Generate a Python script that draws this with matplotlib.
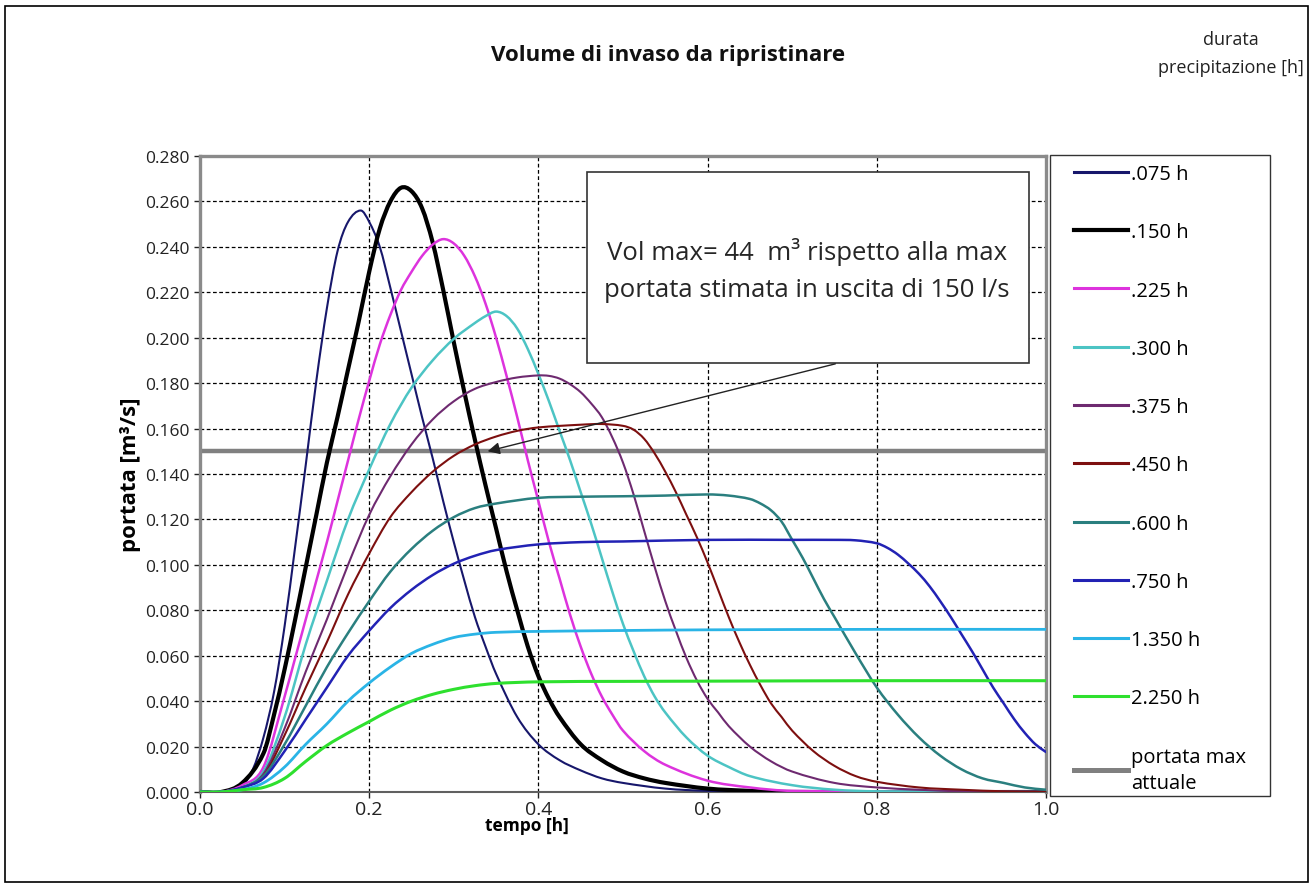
import matplotlib.pyplot as plt
from matplotlib.lines import Line2D
from matplotlib.patches import Rectangle, PathPatch
from matplotlib.path import Path

plt.rcParams['font.family'] = ['Open Sans', 'DejaVu Sans']

# durate di precipitazione e idrogrammi (tempo [h], portata [m3/s])
labels = ['.075 h', '.150 h', '.225 h', '.300 h', '.375 h', '.450 h',
          '.600 h', '.750 h', '1.350 h', '2.250 h']
colors = ['#17176b', '#000000', '#dd33dd', '#4cc4c4', '#6e2a70', '#7d0f0f',
          '#2a7f7f', '#2222b4', '#2ab4e6', '#2ee02e']
widths = [1.5, 3.0, 1.8, 1.8, 1.5, 1.5, 1.8, 1.8, 2.0, 2.2]

t_075 = [0, 0.025, 0.05, 0.0625, 0.075, 0.0875, 0.1, 0.1125, 0.125, 0.1375, 0.15, 0.1625,
         0.175, 0.19, 0.2, 0.2125, 0.225, 0.2375, 0.25, 0.2625, 0.275, 0.2875, 0.3, 0.3125,
         0.325, 0.3375, 0.35, 0.375, 0.4, 0.425, 0.45, 0.475, 0.5, 0.55, 0.6, 0.7, 1.0]
q_075 = [0, 0.000, 0.003, 0.010, 0.024, 0.044, 0.073, 0.108, 0.144, 0.181, 0.213, 0.238,
         0.251, 0.256, 0.251, 0.240, 0.222, 0.203, 0.184, 0.165, 0.147, 0.128, 0.110, 0.093,
         0.077, 0.064, 0.052, 0.033, 0.021, 0.014, 0.0095, 0.006, 0.004, 0.0015, 0.0005, 0.0, 0.0]

t_150 = [0, 0.025, 0.05, 0.075, 0.0875, 0.1, 0.1125, 0.125, 0.1375, 0.15, 0.1625, 0.175,
         0.1875, 0.2, 0.2125, 0.225, 0.2375, 0.25, 0.2625, 0.275, 0.2875, 0.3, 0.3125, 0.325,
         0.3375, 0.35, 0.3625, 0.375, 0.3875, 0.4, 0.4125, 0.425, 0.45, 0.475, 0.5, 0.525,
         0.55, 0.6, 0.65, 0.7, 1.0]
q_150 = [0, 0.000, 0.004, 0.017, 0.034, 0.054, 0.076, 0.099, 0.122, 0.145, 0.165, 0.186,
         0.207, 0.229, 0.248, 0.260, 0.266, 0.2645, 0.257, 0.242, 0.221, 0.198, 0.176, 0.155,
         0.135, 0.116, 0.097, 0.080, 0.064, 0.051, 0.041, 0.033, 0.021, 0.014, 0.009, 0.006,
         0.004, 0.0015, 0.0005, 0.0, 0.0]

t_225 = [0, 0.025, 0.05, 0.075, 0.1, 0.1125, 0.125, 0.1375, 0.15, 0.1625, 0.175, 0.1875, 0.2,
         0.2125, 0.225, 0.2375, 0.25, 0.2625, 0.275, 0.2875, 0.3, 0.3125, 0.325, 0.3375, 0.35,
         0.3625, 0.375, 0.3875, 0.4, 0.4125, 0.425, 0.4375, 0.45, 0.4625, 0.475, 0.4875, 0.5,
         0.525, 0.55, 0.6, 0.65, 0.7, 1.0]
q_225 = [0, 0.000, 0.003, 0.011, 0.042, 0.059, 0.076, 0.093, 0.110, 0.128, 0.146, 0.164, 0.181,
         0.197, 0.210, 0.221, 0.229, 0.236, 0.241, 0.2434, 0.2415, 0.236, 0.227, 0.215, 0.200,
         0.183, 0.165, 0.146, 0.128, 0.110, 0.094, 0.078, 0.064, 0.052, 0.042, 0.034, 0.027,
         0.018, 0.012, 0.005, 0.002, 0.0005, 0.0]

t_300 = [0, 0.025, 0.05, 0.075, 0.1, 0.125, 0.15, 0.175, 0.2, 0.225, 0.25, 0.275, 0.3, 0.325,
         0.3375, 0.35, 0.3625, 0.375, 0.3875, 0.4, 0.4125, 0.425, 0.4375, 0.45, 0.4625, 0.475,
         0.4875, 0.5, 0.5125, 0.525, 0.5375, 0.55, 0.575, 0.6, 0.625, 0.65, 0.7, 0.75, 0.8, 1.0]
q_300 = [0, 0.000, 0.002, 0.009, 0.033, 0.065, 0.093, 0.120, 0.142, 0.162, 0.178, 0.190, 0.1995, 0.2065,
         0.2095, 0.2115, 0.2095, 0.204, 0.195, 0.184, 0.172, 0.159, 0.146, 0.132, 0.118, 0.103,
         0.088, 0.074, 0.062, 0.051, 0.042, 0.035, 0.024, 0.016, 0.011, 0.007, 0.003, 0.001, 0.0003, 0.0]

t_375 = [0, 0.025, 0.05, 0.075, 0.1, 0.125, 0.15, 0.175, 0.2, 0.225, 0.25, 0.275, 0.3, 0.325,
         0.35, 0.375, 0.4, 0.4125, 0.425, 0.4375, 0.45, 0.4625, 0.475, 0.4875, 0.5, 0.5125,
         0.525, 0.5375, 0.55, 0.5625, 0.575, 0.5875, 0.6, 0.6125, 0.625, 0.65, 0.675, 0.7, 0.75,
         0.8, 0.85, 0.9, 1.0]
q_375 = [0, 0.000, 0.002, 0.008, 0.028, 0.053, 0.076, 0.100, 0.122, 0.139, 0.153, 0.164, 0.172, 0.1775,
         0.1805, 0.1825, 0.1834, 0.1832, 0.182, 0.1795, 0.176, 0.171, 0.165, 0.156, 0.145, 0.131,
         0.115, 0.099, 0.084, 0.071, 0.059, 0.049, 0.041, 0.035, 0.029, 0.020, 0.0135, 0.009, 0.004,
         0.002, 0.001, 0.0003, 0.0]

t_450 = [0, 0.025, 0.05, 0.075, 0.1, 0.125, 0.15, 0.175, 0.2, 0.225, 0.25, 0.275, 0.3, 0.325,
         0.35, 0.375, 0.4, 0.45, 0.475, 0.5, 0.5125, 0.525, 0.5375, 0.55, 0.5625, 0.575, 0.5875,
         0.6, 0.6125, 0.625, 0.6375, 0.65, 0.6625, 0.675, 0.6875, 0.7, 0.725, 0.75, 0.775, 0.8,
         0.85, 0.9, 0.95, 1.0]
q_450 = [0, 0.000, 0.002, 0.007, 0.025, 0.046, 0.066, 0.087, 0.105, 0.121, 0.132, 0.141, 0.148, 0.153,
         0.1565, 0.159, 0.1605, 0.1617, 0.162, 0.1612, 0.1595, 0.1555, 0.149, 0.141, 0.132, 0.122, 0.112,
         0.101, 0.089, 0.077, 0.066, 0.056, 0.047, 0.039, 0.033, 0.027, 0.018, 0.0115, 0.007, 0.0045,
         0.002, 0.001, 0.0003, 0.0]

t_600 = [0, 0.025, 0.05, 0.075, 0.1, 0.125, 0.15, 0.175, 0.2, 0.225, 0.25, 0.275, 0.3, 0.325,
         0.35, 0.4, 0.45, 0.5, 0.55, 0.6, 0.625, 0.65, 0.6625, 0.675, 0.6875, 0.7, 0.7125, 0.725,
         0.7375, 0.75, 0.775, 0.8, 0.825, 0.85, 0.875, 0.9, 0.925, 0.95, 0.975, 1.0]
q_600 = [0, 0.000, 0.002, 0.007, 0.021, 0.038, 0.055, 0.070, 0.084, 0.097, 0.107, 0.115, 0.121, 0.125,
         0.127, 0.1295, 0.130, 0.1302, 0.1305, 0.131, 0.1305, 0.129, 0.127, 0.124, 0.119, 0.111, 0.103, 0.094,
         0.085, 0.077, 0.061, 0.046, 0.034, 0.024, 0.016, 0.010, 0.006, 0.004, 0.002, 0.001]

t_750 = [0, 0.025, 0.05, 0.075, 0.1, 0.125, 0.15, 0.175, 0.2, 0.225, 0.25, 0.275, 0.3, 0.325,
         0.35, 0.4, 0.45, 0.5, 0.6, 0.7, 0.75, 0.775, 0.8, 0.8125, 0.825, 0.8375, 0.85, 0.8625,
         0.875, 0.8875, 0.9, 0.9125, 0.925, 0.9375, 0.95, 0.9625, 0.975, 0.9875, 1.0]
q_750 = [0, 0.000, 0.002, 0.006, 0.018, 0.032, 0.046, 0.060, 0.071, 0.081, 0.089, 0.0955, 0.1005, 0.104,
         0.1065, 0.109, 0.110, 0.1103, 0.111, 0.111, 0.111, 0.1108, 0.1095, 0.1075, 0.1045, 0.1005, 0.096,
         0.0905, 0.084, 0.077, 0.0695, 0.062, 0.054, 0.046, 0.039, 0.032, 0.026, 0.021, 0.0176]

t_1350 = [0, 0.025, 0.05, 0.075, 0.1, 0.125, 0.15, 0.175, 0.2, 0.225, 0.25, 0.275, 0.3, 0.325,
          0.35, 0.4, 0.5, 0.6, 0.8, 1.0]
q_1350 = [0, 0.000, 0.001, 0.004, 0.011, 0.021, 0.030, 0.040, 0.048, 0.055, 0.061, 0.065, 0.068, 0.0695,
          0.0703, 0.0707, 0.0711, 0.0714, 0.0716, 0.0716]

t_2250 = [0, 0.025, 0.05, 0.075, 0.1, 0.125, 0.15, 0.175, 0.2, 0.225, 0.25, 0.275, 0.3, 0.325,
          0.35, 0.4, 0.5, 0.6, 0.8, 1.0]
q_2250 = [0, 0.000, 0.001, 0.002, 0.006, 0.0135, 0.0205, 0.026, 0.031, 0.036, 0.040, 0.043, 0.0452, 0.0468,
          0.0478, 0.0485, 0.0487, 0.0488, 0.049, 0.049]

series_t = [t_075, t_150, t_225, t_300, t_375, t_450, t_600, t_750, t_1350, t_2250]
series_q = [q_075, q_150, q_225, q_300, q_375, q_450, q_600, q_750, q_1350, q_2250]

portata_max = 0.150      # portata max attuale [m3/s]
t_range = [0.0, 1.0]
yticks = [0.000, 0.020, 0.040, 0.060, 0.080, 0.100, 0.120, 0.140,
          0.160, 0.180, 0.200, 0.220, 0.240, 0.260, 0.280]
xticks = [0.0, 0.2, 0.4, 0.6, 0.8, 1.0]


def smooth_path(x, y):
    # linea "smussata" come in Excel: bezier cubiche che passano per i punti
    n = len(x)
    slopes = []
    for i in range(n):
        a = max(i - 1, 0)
        b = min(i + 1, n - 1)
        slopes.append((y[b] - y[a]) / (x[b] - x[a]))
    verts = [(x[0], y[0])]
    codes = [Path.MOVETO]
    for i in range(n - 1):
        h = x[i + 1] - x[i]
        verts += [(x[i] + h / 3, y[i] + slopes[i] * h / 3),
                  (x[i + 1] - h / 3, y[i + 1] - slopes[i + 1] * h / 3),
                  (x[i + 1], y[i + 1])]
        codes += [Path.CURVE4] * 3
    return Path(verts, codes)


W, H = 1312, 887
fig = plt.figure(figsize=(W / 100, H / 100), dpi=100)
ax = fig.add_axes([200 / W, 1 - 793 / H, 846 / W, 636 / H])

handles = []
for t, q, lab, c, lw in zip(series_t, series_q, labels, colors, widths):
    ax.add_patch(PathPatch(smooth_path(t, q), facecolor='none', edgecolor=c, lw=lw,
                           capstyle='round', joinstyle='round', zorder=3))
    handles.append(Line2D([], [], color=c, lw=max(lw, 2.2), label=lab))
ax.plot(t_range, [portata_max, portata_max], color='#808080', lw=3.2, zorder=2.5)
handles.append(Line2D([], [], color='#808080', lw=3.6, label='portata max\nattuale'))

ax.set_xlim(0, 1.0)
ax.set_ylim(0, 0.28)
ax.set_xticks(xticks)
ax.set_yticks(yticks)
ax.set_xticklabels([f'{v:.1f}' for v in xticks])
ax.set_yticklabels([f'{v:.3f}' for v in yticks])
ax.tick_params(axis='both', colors='#222222', length=4, width=1)
ax.tick_params(axis='y', labelsize=12.5)
ax.tick_params(axis='x', labelsize=14, pad=1.5)
ax.grid(True, color='black', lw=0.9, linestyle=(0, (3, 2)), zorder=1)
for s in ['top', 'right', 'left']:
    ax.spines[s].set_color('#8a8a8a')
    ax.spines[s].set_linewidth(2.4)
ax.spines['bottom'].set_color('#606060')
ax.spines['bottom'].set_linewidth(1.5)

ax.set_xlabel('tempo [h]', fontsize=12.5, fontweight='bold')
ax.set_ylabel('portata [m³/s]', fontsize=16, fontweight='bold')
ax.xaxis.set_label_coords((527 - 200) / 846, -(817 - 793) / 636)
ax.yaxis.set_label_coords((141 - 200) / 846, (793 - 475) / 636)

# riquadro di commento con freccia
box = Rectangle((0.458, 0.1887), 0.522, 0.0842, facecolor='white',
                edgecolor='#333333', lw=1.2, zorder=5)
ax.add_patch(box)
ax.text(0.717, 0.2302, 'Vol max= 44  m³ rispetto alla max\nportata stimata in uscita di 150 l/s',
        ha='center', va='center', fontsize=18.5, linespacing=1.62, color='#262626', zorder=6)
ax.annotate('', xy=(0.340, 0.150), xytext=(0.751, 0.1885),
            arrowprops=dict(arrowstyle='-|>', color='#222222', lw=1.0,
                            mutation_scale=18, shrinkA=0, shrinkB=0), zorder=6)

# legenda
fig.add_artist(Rectangle((1050 / W, 1 - 797 / H), 220 / W, 641 / H, transform=fig.transFigure,
                         facecolor='white', edgecolor='#333333', lw=1.0))
leg = fig.legend(handles=handles, loc='upper left', bbox_to_anchor=(1074 / W, 1 - 165 / H),
                 frameon=False, fontsize=14.5, handlelength=2.7, handletextpad=0.12,
                 labelspacing=1.9, borderpad=0, borderaxespad=0)
leg.get_texts()[-1].set_linespacing(1.45)

fig.text(668 / W, 1 - 56 / H, 'Volume di invaso da ripristinare', ha='center', va='center',
         fontsize=16, fontweight='bold', color='#111111')
fig.text(1231 / W, 1 - 54 / H, 'durata\nprecipitazione [h]', ha='center', va='center',
         fontsize=13, linespacing=1.75, color='#222222')

# bordo esterno
fig.add_artist(Rectangle((5 / W, 1 - 883 / H), 1303 / W, 876 / H, transform=fig.transFigure,
                         facecolor='none', edgecolor='black', lw=1.2))

fig.savefig('out.png', dpi=100)
